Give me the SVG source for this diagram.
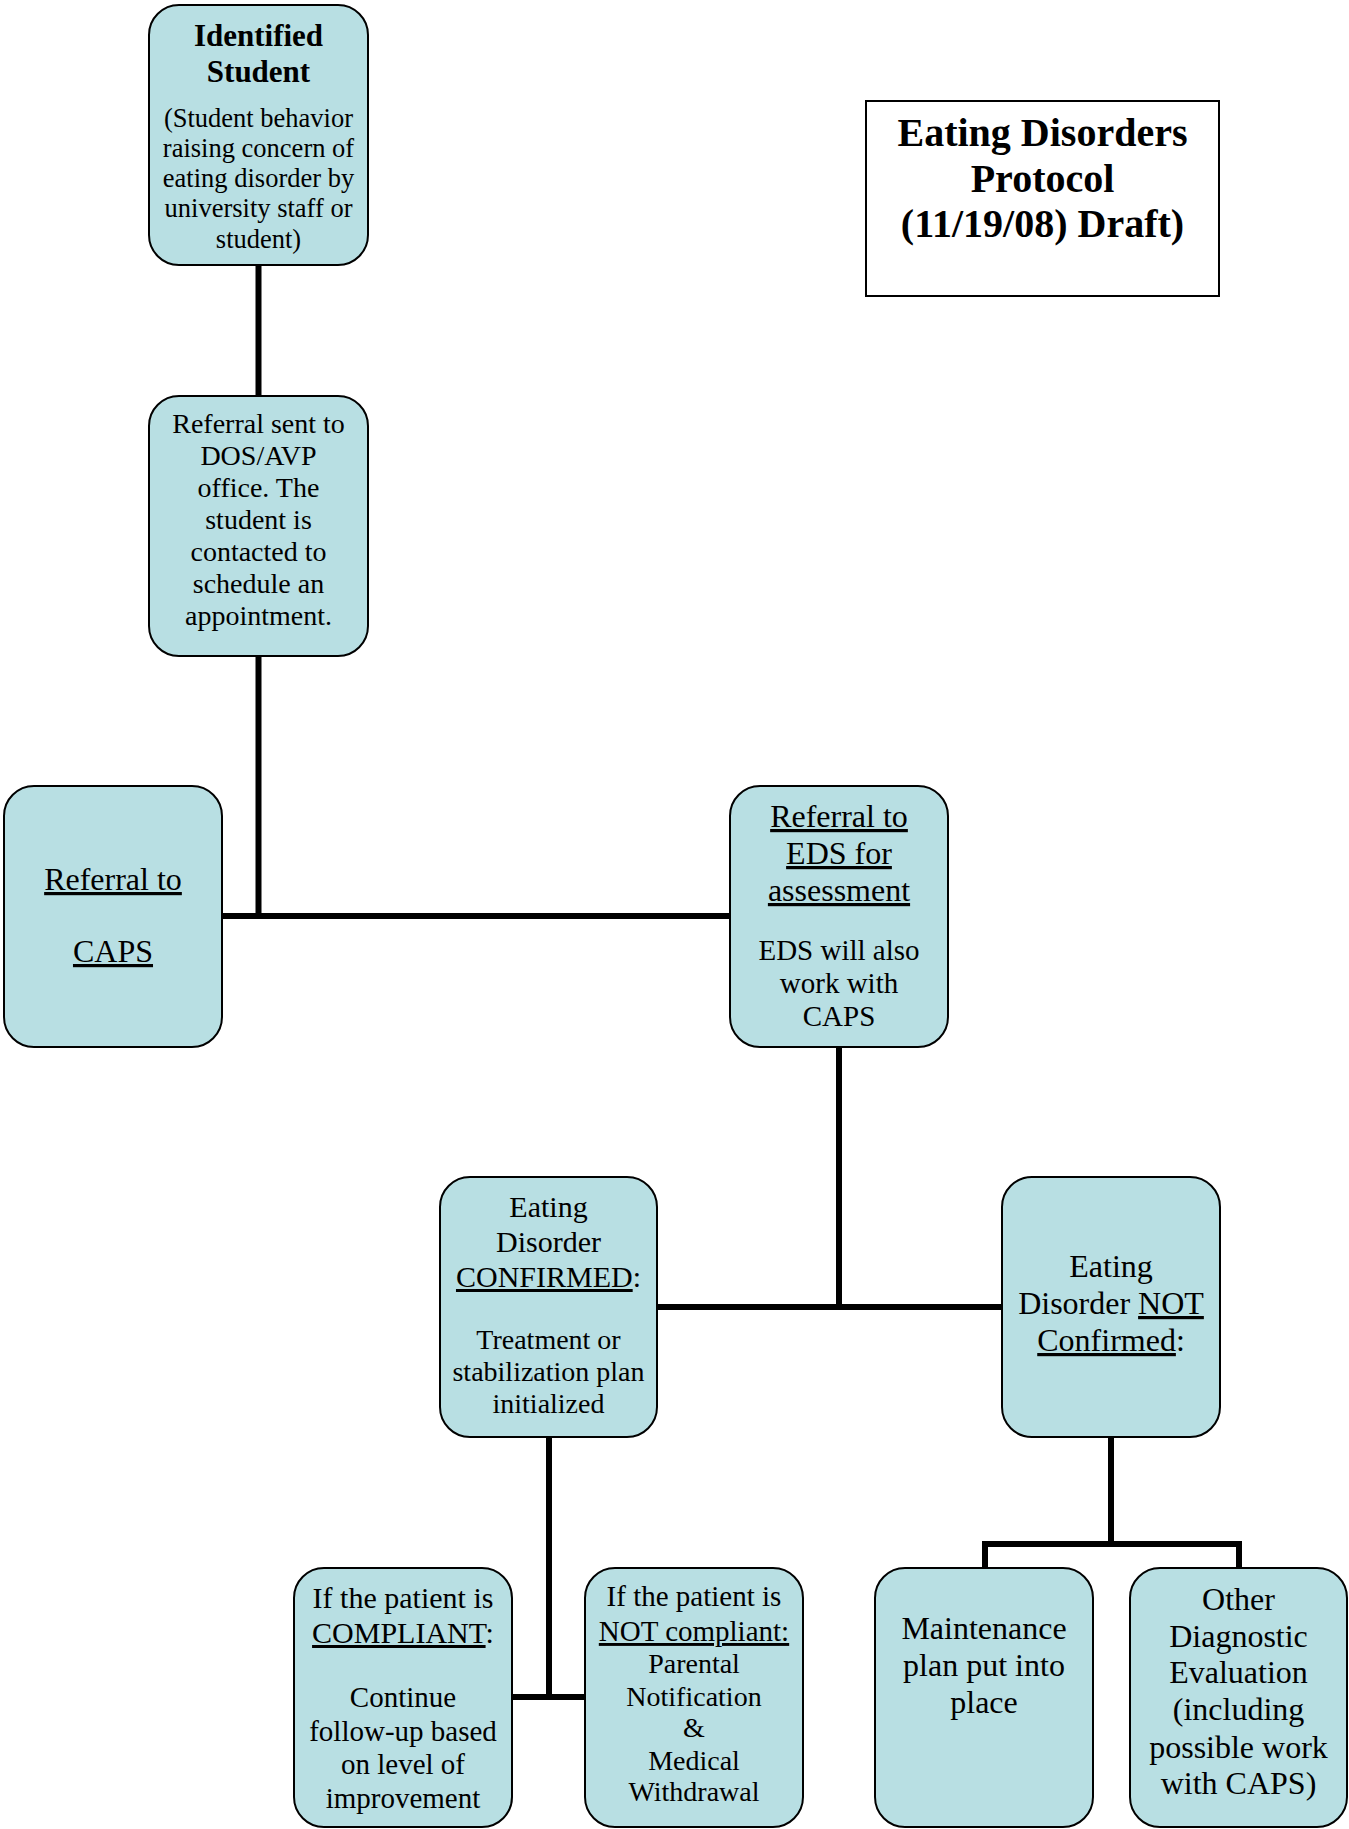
<svg xmlns="http://www.w3.org/2000/svg" width="1349" height="1829" viewBox="0 0 1349 1829">
<style>
.n{fill:#B8DFE3;stroke:#000;stroke-width:2}
.t{font-family:"Liberation Serif","Times New Roman",serif;fill:#000;text-anchor:middle}
.u{text-decoration:underline}
.c{stroke:#000;stroke-width:6;fill:none}
</style>
<rect width="1349" height="1829" fill="#fff"/>
<g id="connectors">
<line class="c" x1="258.5" y1="265" x2="258.5" y2="396"/>
<line class="c" x1="258.5" y1="656" x2="258.5" y2="919"/>
<line class="c" x1="222" y1="916" x2="730" y2="916"/>
<line class="c" x1="839" y1="1047" x2="839" y2="1310"/>
<line class="c" x1="657" y1="1307" x2="1002" y2="1307"/>
<line class="c" x1="549" y1="1437" x2="549" y2="1700"/>
<line class="c" x1="512" y1="1697" x2="585" y2="1697"/>
<line class="c" x1="1111" y1="1437" x2="1111" y2="1547"/>
<polyline class="c" points="985,1568 985,1544 1239,1544 1239,1568"/>
</g>
<g id="title">
<rect x="866" y="101" width="353" height="195" fill="#fff" stroke="#000" stroke-width="2"/>
<text class="t" font-size="40" font-weight="bold"><tspan x="1042.5" y="146">Eating Disorders</tspan><tspan x="1042.5" y="192">Protocol</tspan><tspan x="1042.5" y="237">(11/19/08) Draft)</tspan></text>
</g>
<g id="identified-student">
<rect class="n" x="149" y="5" width="219" height="260" rx="30"/>
<text class="t" font-size="31" font-weight="bold"><tspan x="258.5" y="46">Identified</tspan><tspan x="258.5" y="82">Student</tspan></text>
<text class="t" font-size="26.5"><tspan x="258.5" y="127">(Student behavior</tspan><tspan x="258.5" y="157">raising concern of</tspan><tspan x="258.5" y="187">eating disorder by</tspan><tspan x="258.5" y="217">university staff or</tspan><tspan x="258.5" y="248">student)</tspan></text>
</g>
<g id="referral-dos">
<rect class="n" x="149" y="396" width="219" height="260" rx="30"/>
<text class="t" font-size="28"><tspan x="258.5" y="433">Referral sent to</tspan><tspan x="258.5" y="465">DOS/AVP</tspan><tspan x="258.5" y="497">office. The</tspan><tspan x="258.5" y="529">student is</tspan><tspan x="258.5" y="561">contacted to</tspan><tspan x="258.5" y="593">schedule an</tspan><tspan x="258.5" y="625">appointment.</tspan></text>
</g>
<g id="referral-caps">
<rect class="n" x="4" y="786" width="218" height="261" rx="30"/>
<text class="t u" font-size="32"><tspan x="113" y="890">Referral to</tspan><tspan x="113" y="962">CAPS</tspan></text>
</g>
<g id="referral-eds">
<rect class="n" x="730" y="786" width="218" height="261" rx="30"/>
<text class="t u" font-size="32"><tspan x="839" y="827">Referral to</tspan><tspan x="839" y="864">EDS for</tspan><tspan x="839" y="901">assessment</tspan></text>
<text class="t" font-size="29"><tspan x="839" y="960">EDS will also</tspan><tspan x="839" y="993">work with</tspan><tspan x="839" y="1026">CAPS</tspan></text>
</g>
<g id="confirmed">
<rect class="n" x="440" y="1177" width="217" height="260" rx="30"/>
<text class="t" font-size="30"><tspan x="548.5" y="1217">Eating</tspan><tspan x="548.5" y="1252">Disorder</tspan><tspan x="548.5" y="1287"><tspan class="u">CONFIRMED</tspan>:</tspan></text>
<text class="t" font-size="28"><tspan x="548.5" y="1349">Treatment or</tspan><tspan x="548.5" y="1381">stabilization plan</tspan><tspan x="548.5" y="1413">initialized</tspan></text>
</g>
<g id="not-confirmed">
<rect class="n" x="1002" y="1177" width="218" height="260" rx="30"/>
<text class="t" font-size="32"><tspan x="1111" y="1277">Eating</tspan><tspan x="1111" y="1314">Disorder <tspan class="u">NOT</tspan></tspan><tspan x="1111" y="1351"><tspan class="u">Confirmed</tspan>:</tspan></text>
</g>
<g id="compliant">
<rect class="n" x="294" y="1568" width="218" height="259" rx="30"/>
<text class="t" font-size="30"><tspan x="403" y="1608">If the patient is</tspan><tspan x="403" y="1643"><tspan class="u">COMPLIANT</tspan>:</tspan></text>
<text class="t" font-size="29"><tspan x="403" y="1707">Continue</tspan><tspan x="403" y="1741">follow-up based</tspan><tspan x="403" y="1774">on level of</tspan><tspan x="403" y="1808">improvement</tspan></text>
</g>
<g id="not-compliant">
<rect class="n" x="585" y="1568" width="218" height="259" rx="30"/>
<text class="t" font-size="29"><tspan x="694" y="1606">If the patient is</tspan><tspan x="694" y="1641" class="u">NOT compliant:</tspan></text>
<text class="t" font-size="28"><tspan x="694" y="1673">Parental</tspan><tspan x="694" y="1706">Notification</tspan><tspan x="694" y="1737">&amp;</tspan><tspan x="694" y="1770">Medical</tspan><tspan x="694" y="1801">Withdrawal</tspan></text>
</g>
<g id="maintenance">
<rect class="n" x="875" y="1568" width="218" height="259" rx="30"/>
<text class="t" font-size="32"><tspan x="984" y="1639">Maintenance</tspan><tspan x="984" y="1676">plan put into</tspan><tspan x="984" y="1713">place</tspan></text>
</g>
<g id="other-diagnostic">
<rect class="n" x="1130" y="1568" width="217" height="259" rx="30"/>
<text class="t" font-size="32"><tspan x="1238.5" y="1610">Other</tspan><tspan x="1238.5" y="1647">Diagnostic</tspan><tspan x="1238.5" y="1683">Evaluation</tspan><tspan x="1238.5" y="1720">(including</tspan><tspan x="1238.5" y="1758">possible work</tspan><tspan x="1238.5" y="1794">with CAPS)</tspan></text>
</g>
</svg>
